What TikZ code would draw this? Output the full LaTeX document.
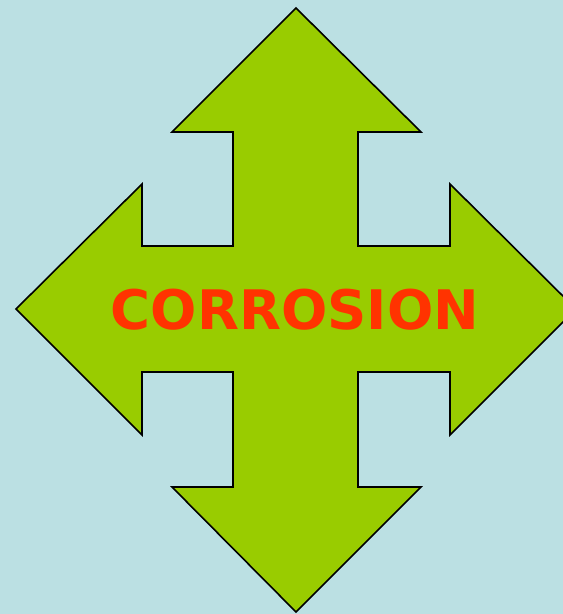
\documentclass[tikz,border=0pt]{standalone}
\usepackage{fontspec}
\usepackage{tikz}
\usetikzlibrary{calc,positioning}
\newfontfamily\verdanalike{DejaVu Sans}
\definecolor{skyback}{HTML}{BBE0E3}
\definecolor{limegreen}{HTML}{99CC00}
\definecolor{rustred}{HTML}{FF3300}

\begin{document}
\begin{tikzpicture}[x=1pt,y=-1pt]
      % Background and frame
      \fill[skyback] (0,0) rectangle (563,614);
      \useasboundingbox (0,0) rectangle (563,614);
      \clip (0,0) rectangle (563,614);
      % Draw the four-way arrow
      \draw[line width=1.6pt, fill=limegreen, line join=miter]
        (296,8) -- (421,132) -- (358,132) -- (358,246) -- (450,246) -- (450,184)
        -- (576,309) -- (450,435) -- (450,372) -- (358,372) -- (358,487)
        -- (421,487) -- (296,612) -- (172,487) -- (233,487) -- (233,372)
        -- (142,372) -- (142,435) -- (16,309) -- (142,184) -- (142,246)
        -- (233,246) -- (233,132) -- (172,132) -- cycle;
      % Label
      \node[rustred, font=\verdanalike\bfseries\fontsize{54.5}{60}\selectfont] (corrosion) at (295,310) {CORROSION};
\end{tikzpicture}
\end{document}
